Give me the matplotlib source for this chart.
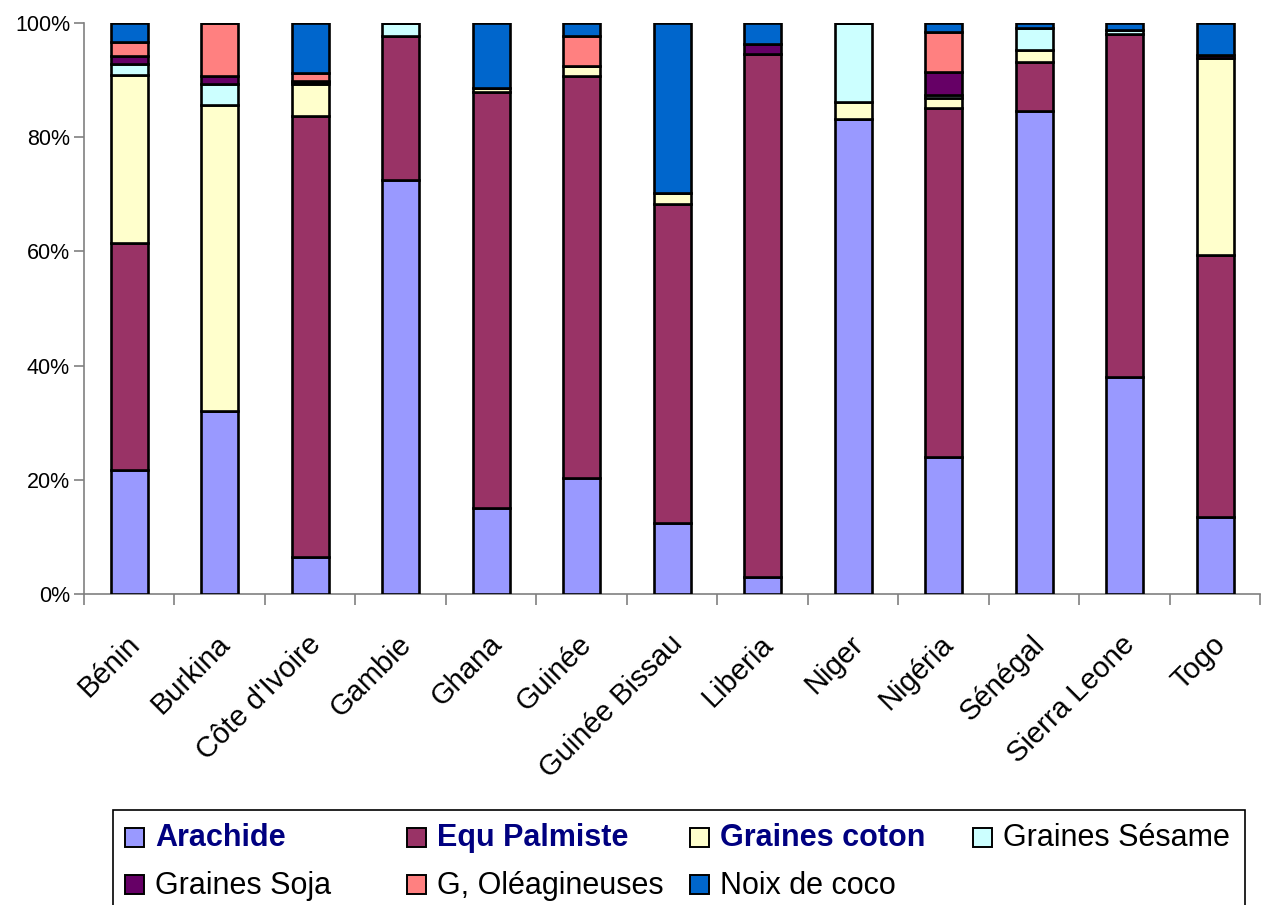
import matplotlib
matplotlib.use("Agg")
import matplotlib.pyplot as plt
import numpy as np
from matplotlib.patches import Rectangle
import matplotlib.transforms as mtransforms

plt.rcParams['font.family'] = ['Liberation Sans', 'DejaVu Sans']

countries = ["Bénin", "Burkina", "Côte d'Ivoire", "Gambie", "Ghana", "Guinée",
             "Guinée Bissau", "Liberia", "Niger", "Nigéria", "Sénégal",
             "Sierra Leone", "Togo"]

arachide   = [21.8, 32.0, 6.5, 72.5, 15.1, 20.3, 12.4, 3.0, 83.2, 24.0, 84.6, 38.0, 13.5]
palmiste   = [39.7, 0.0, 77.2, 25.2, 72.9, 70.4, 55.9, 91.6, 0.0, 61.2, 8.6, 60.1, 45.9]
coton      = [29.4, 53.6, 5.6, 0.0, 0.6, 1.8, 1.9, 0.0, 3.0, 1.6, 2.1, 0.0, 34.4]
sesame     = [1.9, 3.7, 0.3, 2.3, 0.0, 0.0, 0.0, 0.0, 13.8, 0.6, 3.9, 0.6, 0.0]
soja       = [1.4, 1.4, 0.3, 0.0, 0.0, 0.0, 0.0, 1.7, 0.0, 4.0, 0.0, 0.0, 0.6]
oleag      = [2.5, 9.3, 1.3, 0.0, 0.0, 5.2, 0.0, 0.0, 0.0, 7.0, 0.0, 0.0, 0.0]
coco       = [3.3, 0.0, 8.8, 0.0, 11.4, 2.3, 29.8, 3.7, 0.0, 1.6, 0.8, 1.3, 5.6]

series = [
    ("Arachide", arachide, "#9999FF"),
    ("Equ Palmiste", palmiste, "#993366"),
    ("Graines coton", coton, "#FFFFCC"),
    ("Graines Sésame", sesame, "#CCFFFF"),
    ("Graines Soja", soja, "#660066"),
    ("G, Oléagineuses", oleag, "#FF8080"),
    ("Noix de coco", coco, "#0066CC"),
]
bold_labels = {"Arachide", "Equ Palmiste", "Graines coton"}

W, H = 1263, 905
fig = plt.figure(figsize=(W/100, H/100), dpi=100)
ax = fig.add_axes([84/W, 1-594/H, 1-84/W-0.002, (594-23)/H])

x = np.arange(len(countries))
bottom = np.zeros(len(countries))
for name, vals, col in series:
    v = np.array(vals)
    ax.bar(x, v, bottom=bottom, width=0.41, color=col, edgecolor="black",
           linewidth=1.9, zorder=3)
    bottom += v

ax.set_xlim(-0.5, len(countries) - 0.5)
ax.set_ylim(0, 100)
ax.set_yticks(np.arange(0, 101, 20))
ax.set_yticklabels([f"{v}%" for v in range(0, 101, 20)], fontsize=15.5)
ax.set_xticks(x)
ax.set_xticklabels(countries, rotation=45, ha="right", rotation_mode="anchor",
                   fontsize=21)
ax.tick_params(axis="x", which="major", length=0, pad=26)
offset = mtransforms.ScaledTranslation(-4/100, 0, fig.dpi_scale_trans)
for lbl in ax.get_xticklabels():
    lbl.set_transform(lbl.get_transform() + offset)
ax.set_xticks(np.arange(-0.5, len(countries), 1), minor=True)
ax.tick_params(axis="x", which="minor", length=8, width=1.2, color="#808080", direction="out")
ax.tick_params(axis="y", length=7, width=1.2, color="#808080", direction="out", pad=3)

for s in ["top", "right"]:
    ax.spines[s].set_visible(False)
for s in ["left", "bottom"]:
    ax.spines[s].set_color("#808080")
    ax.spines[s].set_linewidth(1.2)

# Legend drawn in Excel style (row-wise fill, fixed column positions)
def fx(px):
    return px / W

def fy(py):
    return 1 - py / H

frame = Rectangle((fx(113), fy(915)), fx(1245) - fx(113), fy(810) - fy(915),
                  transform=fig.transFigure, facecolor="white", edgecolor="black",
                  linewidth=1.2, zorder=1)
fig.add_artist(frame)
col_x = [125, 407, 690, 973]
row_y = [837, 884.5]
hs = 19
for i, (name, _, col) in enumerate(series):
    r, c = divmod(i, 4)
    hx, hy = col_x[c], row_y[r]
    fig.add_artist(Rectangle((fx(hx), fy(hy + hs/2)), fx(hs), hs / H,
                             transform=fig.transFigure, facecolor=col,
                             edgecolor="black", linewidth=1.4, zorder=2))
    bold = name in bold_labels
    fig.text(fx(hx + 30), fy(hy + 1), name, fontsize=22, va="center", ha="left",
             fontweight="bold" if bold else "normal",
             color="#000080" if bold else "black", zorder=3)

fig.savefig("out.png", dpi=100)
